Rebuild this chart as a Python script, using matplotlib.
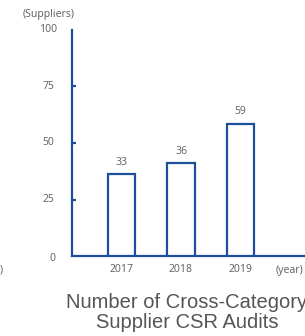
import matplotlib
matplotlib.use("Agg")
import matplotlib.pyplot as plt
from matplotlib.transforms import blended_transform_factory

years = ["2017", "2018", "2019"]
bar_heights = [36.3, 41.0, 58.6]   # heights as drawn in the picture
value_labels = ["33", "36", "59"]  # values printed above the bars
yticks = [0, 25, 50, 75, 100]
ytick_labels = ["0", "25", "50", "75", "100"]

BLUE = "#1d4e9e"
GRAY = "#666666"

W, H = 305, 336
fig = plt.figure(figsize=(W / 100, H / 100), dpi=100)

x0, x1 = 72, 305
y0, y1 = 256, 30
ax = fig.add_axes([x0 / W, 1 - y0 / H, (x1 - x0) / W, (y0 - y1) / H])
ax.set_xlim(-0.832, 3.084)
ax.set_ylim(0, 100)

xs = list(range(len(years)))
ax.bar(xs, bar_heights, width=0.454, facecolor="white", edgecolor=BLUE, linewidth=1.6, zorder=3)

for x, h, lab in zip(xs, bar_heights, value_labels):
    ax.annotate(lab, (x, h), xytext=(0, 4.5), textcoords="offset points", ha="center", va="bottom",
                fontsize=7.5, color=GRAY, family="Noto Sans")

for s in ["top", "right"]:
    ax.spines[s].set_visible(False)
for s in ["left", "bottom"]:
    ax.spines[s].set_color(BLUE)
    ax.spines[s].set_linewidth(1.6)

ax.set_yticks([25, 50, 75])
ax.tick_params(axis="y", direction="in", length=3, width=1.6, color=BLUE, labelleft=False)
ax.set_xticks([])

tr = blended_transform_factory(fig.transFigure, ax.transData)
for v, lab in zip(yticks, ytick_labels):
    xx = 52.5 if v == 0 else 48.5
    yy = v - 1.3 if v == 0 else v
    ax.text(xx / W, yy, lab, transform=tr, ha="center", va="center", fontsize=7.5, color=GRAY,
            family="Noto Sans")

trx = blended_transform_factory(ax.transData, fig.transFigure)
for x, lab in zip(xs, years):
    ax.text(x, 1 - 270 / H, lab, transform=trx, ha="center", va="center", fontsize=7.5,
            color=GRAY, family="Noto Sans")

fig.text(290 / W, 1 - 270 / H, "(year)", ha="center", va="center", fontsize=7.5, color=GRAY,
         family="Noto Sans")
fig.text(49 / W, 1 - 14 / H, "(Suppliers)", ha="center", va="center", fontsize=7.5, color=GRAY,
         family="Noto Sans")
fig.text(0 / W, 1 - 270 / H, ")", ha="left", va="center", fontsize=7.5, color=GRAY,
         family="Noto Sans")

fig.text(187 / W, 1 - 302 / H, "Number of Cross-Category", ha="center", va="center",
         fontsize=14.5, color="#555555", family="Liberation Sans")
fig.text(187 / W, 1 - 323 / H, "Supplier CSR Audits", ha="center", va="center",
         fontsize=14.5, color="#555555", family="Liberation Sans")

fig.savefig("out.png", dpi=100)
